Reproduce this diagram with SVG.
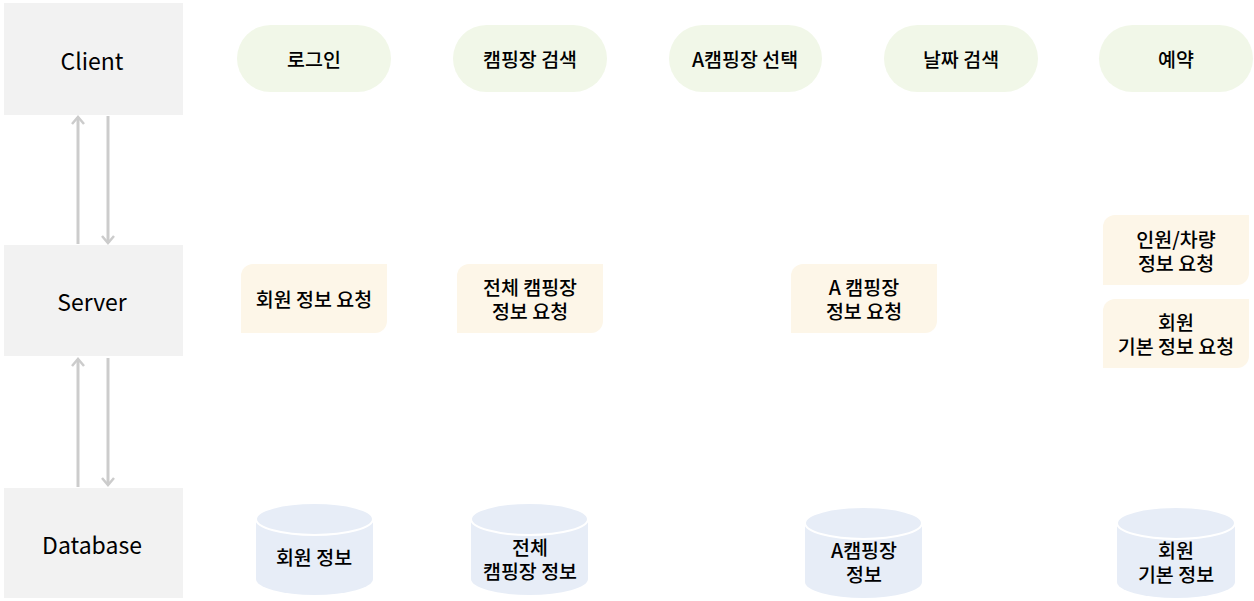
<svg xmlns="http://www.w3.org/2000/svg" width="1254" height="601" viewBox="0 0 1254 601">
<defs>
<marker id="ah" markerWidth="10" markerHeight="14" refX="8" refY="7" orient="auto-start-reverse" markerUnits="userSpaceOnUse" viewBox="0 0 10 14">
<path d="M1,1 L8,7 L1,13" fill="none" stroke="#cccccc" stroke-width="2.5"/>
</marker>
<style>
text{font-family:"Noto Sans CJK KR","Noto Sans",sans-serif;fill:#000;text-anchor:middle;dominant-baseline:central}
.lane{fill:#f2f2f2}
.lt{font-size:23px}
.pill{fill:#f1f7e8}
.req{fill:#fdf6e8}
.cyl{fill:#e7edf7}
.cyltop{fill:#e7edf7;stroke:#fff;stroke-width:2}
.t{font-size:19.5px;font-weight:500}
.conn{stroke:#cccccc;stroke-width:3;fill:none}
</style>
</defs>
<rect width="1254" height="601" fill="#fff"/>
<g id="lane-client"><rect class="lane" x="4" y="3" width="179" height="112"/><text class="lt" x="92" y="60">Client</text></g>
<g id="lane-server"><rect class="lane" x="4" y="245" width="179" height="111"/><text class="lt" x="92" y="301">Server</text></g>
<g id="lane-database"><rect class="lane" x="4" y="488" width="179" height="110"/><text class="lt" x="92" y="544">Database</text></g>
<g id="connectors">
<line class="conn" x1="78" y1="244" x2="78" y2="117" marker-end="url(#ah)"/>
<line class="conn" x1="108" y1="116" x2="108" y2="243" marker-end="url(#ah)"/>
<line class="conn" x1="78" y1="487" x2="78" y2="359" marker-end="url(#ah)"/>
<line class="conn" x1="108" y1="358" x2="108" y2="485" marker-end="url(#ah)"/>
</g>
<g id="c-login"><rect class="pill" x="237" y="25" width="154" height="67" rx="33.5"/><text class="t" x="314" y="58">로그인</text></g>
<g id="c-search"><rect class="pill" x="453" y="25" width="154" height="67" rx="33.5"/><text class="t" x="530" y="58">캠핑장 검색</text></g>
<g id="c-select"><rect class="pill" x="669" y="25" width="153" height="67" rx="33.5"/><text class="t" x="745" y="58">A캠핑장 선택</text></g>
<g id="c-date"><rect class="pill" x="884" y="25" width="154" height="67" rx="33.5"/><text class="t" x="961" y="58">날짜 검색</text></g>
<g id="c-reserve"><rect class="pill" x="1099" y="25" width="154" height="67" rx="33.5"/><text class="t" x="1176" y="58">예약</text></g>
<g id="s-member"><path class="req" d="M253,264 H387 V321 A12,12 0 0 1 375,333 H241 V276 A12,12 0 0 1 253,264 Z"/><text class="t" x="314" y="298">회원 정보 요청</text></g>
<g id="s-all"><path class="req" d="M469,264 H603 V321 A12,12 0 0 1 591,333 H457 V276 A12,12 0 0 1 469,264 Z"/><text class="t" x="530" y="286">전체 캠핑장</text><text class="t" x="530" y="310">정보 요청</text></g>
<g id="s-a"><path class="req" d="M803,264 H937 V321 A12,12 0 0 1 925,333 H791 V276 A12,12 0 0 1 803,264 Z"/><text class="t" x="864" y="286">A 캠핑장</text><text class="t" x="864" y="310">정보 요청</text></g>
<g id="s-people"><path class="req" d="M1115,215 H1249 V273 A12,12 0 0 1 1237,285 H1103 V227 A12,12 0 0 1 1115,215 Z"/><text class="t" x="1176" y="238">인원/차량</text><text class="t" x="1176" y="262">정보 요청</text></g>
<g id="s-basic"><path class="req" d="M1115,299 H1249 V356 A12,12 0 0 1 1237,368 H1103 V311 A12,12 0 0 1 1115,299 Z"/><text class="t" x="1176" y="321">회원</text><text class="t" x="1176" y="345">기본 정보 요청</text></g>
<g id="d-member"><path class="cyl" d="M256,519 V579 A58.5,16 0 0 0 373,579 V519 Z"/><ellipse class="cyltop" cx="314.5" cy="519" rx="58.5" ry="16"/><text class="t" x="314" y="556">회원 정보</text></g>
<g id="d-all"><path class="cyl" d="M471,519 V579 A58.5,16 0 0 0 588,579 V519 Z"/><ellipse class="cyltop" cx="529.5" cy="519" rx="58.5" ry="16"/><text class="t" x="530" y="546">전체</text><text class="t" x="530" y="570">캠핑장 정보</text></g>
<g id="d-a"><path class="cyl" d="M805,523 V582 A58.5,16 0 0 0 922,582 V523 Z"/><ellipse class="cyltop" cx="863.5" cy="523" rx="58.5" ry="16"/><text class="t" x="864" y="549">A캠핑장</text><text class="t" x="864" y="573">정보</text></g>
<g id="d-basic"><path class="cyl" d="M1117,523 V582 A59,16 0 0 0 1235,582 V523 Z"/><ellipse class="cyltop" cx="1176" cy="523" rx="59" ry="16"/><text class="t" x="1176" y="549">회원</text><text class="t" x="1176" y="573">기본 정보</text></g>
</svg>
